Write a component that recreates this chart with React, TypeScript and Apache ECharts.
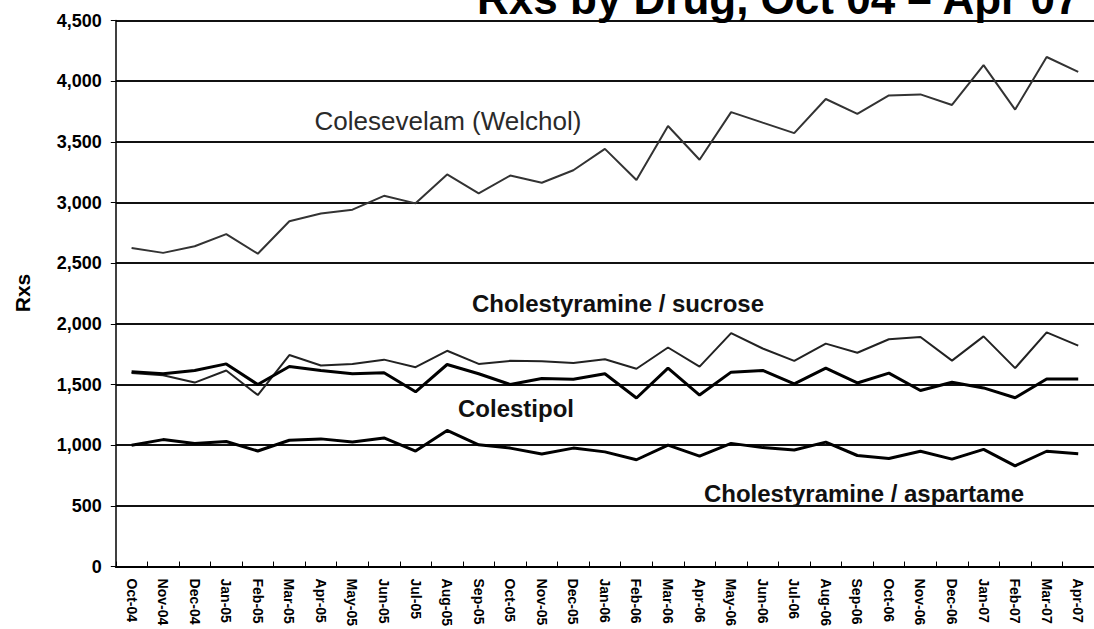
import React, { useEffect, useRef } from "react";
import * as echarts from "echarts";

const months = [
  "Oct-04", "Nov-04", "Dec-04", "Jan-05", "Feb-05", "Mar-05", "Apr-05", "May-05",
  "Jun-05", "Jul-05", "Aug-05", "Sep-05", "Oct-05", "Nov-05", "Dec-05", "Jan-06",
  "Feb-06", "Mar-06", "Apr-06", "May-06", "Jun-06", "Jul-06", "Aug-06", "Sep-06",
  "Oct-06", "Nov-06", "Dec-06", "Jan-07", "Feb-07", "Mar-07", "Apr-07",
];

const colesevelam = [
  2625, 2585, 2640, 2740, 2578, 2846, 2909, 2941, 3055, 2993, 3231, 3076, 3222, 3163, 3266,
  3442, 3185, 3631, 3352, 3745, 3658, 3572, 3853, 3731, 3882, 3891, 3804, 4132, 3766, 4199, 4077,
];

const sucrose = [
  1595, 1576, 1516, 1616, 1413, 1743, 1657, 1670, 1705, 1643, 1778, 1670, 1695, 1692, 1678,
  1708, 1630, 1805, 1648, 1924, 1797, 1695, 1837, 1762, 1873, 1892, 1697, 1897, 1635, 1930, 1821,
];

const colestipol = [
  1605, 1589, 1616, 1670, 1500, 1648, 1616, 1589, 1597, 1440, 1665, 1589, 1500, 1549, 1543,
  1589, 1389, 1635, 1413, 1602, 1616, 1505, 1635, 1513, 1594, 1451, 1519, 1472, 1391, 1545, 1545,
];

const aspartame = [
  1000, 1046, 1014, 1030, 952, 1041, 1052, 1027, 1060, 952, 1122, 1003, 976, 927, 976,
  945, 880, 1000, 910, 1015, 980, 960, 1025, 915, 890, 950, 885, 965, 830, 950, 930,
];

const titleText = "Rxs by Drug, Oct 04 \u2013 Apr 07";
const yAxisTitle = "Rxs";
const seriesNames = [
  "Colesevelam (Welchol)",
  "Cholestyramine / sucrose",
  "Colestipol",
  "Cholestyramine / aspartame",
];

const FONT = "'Liberation Sans', Arial, Helvetica, sans-serif";

export default function App() {
  const ref = useRef<HTMLDivElement>(null);

  useEffect(() => {
    if (!ref.current) return;
    const chart = echarts.init(ref.current, undefined, { renderer: "svg" });

    const lineSeries = (name: string, data: number[], color: string, width: number) => ({
      name,
      type: "line",
      data,
      symbol: "none",
      smooth: false,
      lineStyle: { color, width },
      z: 3,
    });

    chart.setOption({
      animation: false,
      backgroundColor: "#ffffff",
      textStyle: { fontFamily: FONT },
      grid: { left: 115.8, top: 20.5, width: 987, height: 553, containLabel: false },
      xAxis: {
        type: "category",
        data: months,
        boundaryGap: true,
        axisLine: { show: true, lineStyle: { color: "#000", width: 2 } },
        axisTick: { show: true, inside: true, length: 5, lineStyle: { color: "#000", width: 1 } },
        axisLabel: {
          interval: 0,
          rotate: -90,
          margin: 12,
          fontSize: 14,
          fontWeight: "bold",
          color: "#000",
          fontFamily: FONT,
        },
        splitLine: { show: false },
      },
      yAxis: {
        type: "value",
        min: 0,
        max: 4500,
        interval: 500,
        axisLine: { show: true, lineStyle: { color: "#000", width: 1.5 } },
        axisTick: { show: true, inside: false, length: 5, lineStyle: { color: "#000", width: 1 } },
        axisLabel: {
          margin: 14,
          fontSize: 18,
          fontWeight: "bold",
          color: "#000",
          fontFamily: FONT,
          formatter: (v: number) => v.toLocaleString("en-US"),
        },
        splitLine: { show: true, lineStyle: { color: "#111", width: 2 } },
      },
      series: [
        lineSeries(seriesNames[0], colesevelam, "#333", 2),
        lineSeries(seriesNames[1], sucrose, "#222", 2),
        lineSeries(seriesNames[2], colestipol, "#000", 3),
        lineSeries(seriesNames[3], aspartame, "#000", 3),
      ],
      graphic: [
        {
          type: "text",
          x: 477,
          y: -2,
          style: {
            text: titleText,
            font: `bold 44px ${FONT}`,
            fill: "#000",
            textAlign: "left",
            textVerticalAlign: "middle",
          },
          z: 10,
        },
        {
          type: "text",
          x: 22,
          y: 293,
          rotation: Math.PI / 2,
          style: {
            text: yAxisTitle,
            font: `bold 21px ${FONT}`,
            fill: "#000",
            textAlign: "center",
            textVerticalAlign: "middle",
          },
        },
        {
          type: "text",
          x: 448,
          y: 121,
          style: {
            text: seriesNames[0],
            font: `normal 26px ${FONT}`,
            fill: "#2a2a2a",
            textAlign: "center",
            textVerticalAlign: "middle",
          },
        },
        {
          type: "text",
          x: 618,
          y: 303,
          style: {
            text: seriesNames[1],
            font: `bold 24px ${FONT}`,
            fill: "#111",
            textAlign: "center",
            textVerticalAlign: "middle",
          },
        },
        {
          type: "text",
          x: 516,
          y: 408,
          style: {
            text: seriesNames[2],
            font: `bold 24px ${FONT}`,
            fill: "#111",
            textAlign: "center",
            textVerticalAlign: "middle",
          },
        },
        {
          type: "text",
          x: 864,
          y: 493,
          style: {
            text: seriesNames[3],
            font: `bold 24px ${FONT}`,
            fill: "#111",
            textAlign: "center",
            textVerticalAlign: "middle",
          },
        },
      ],
    });

    return () => chart.dispose();
  }, []);

  return (
    <div
      ref={ref}
      style={{ position: "absolute", left: 0, top: 0, width: 1094, height: 629, background: "#fff" }}
    />
  );
}
